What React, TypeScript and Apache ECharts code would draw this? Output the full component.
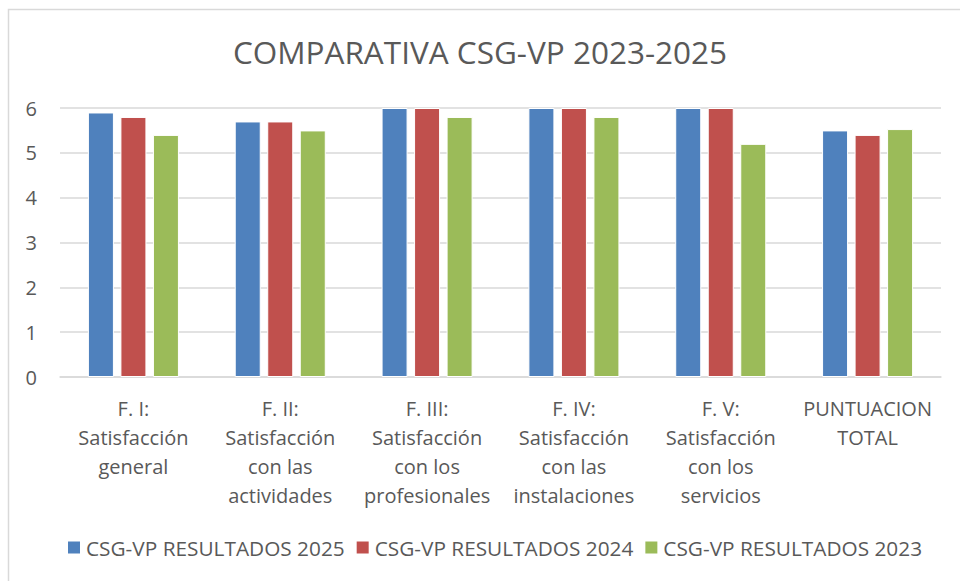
import React, { useEffect, useRef } from "react";
import * as echarts from "echarts";

const categories = [
  "F. I:\nSatisfacción\ngeneral",
  "F. II:\nSatisfacción\ncon las\nactividades",
  "F. III:\nSatisfacción\ncon los\nprofesionales",
  "F. IV:\nSatisfacción\ncon las\ninstalaciones",
  "F. V:\nSatisfacción\ncon los\nservicios",
  "PUNTUACION\nTOTAL",
];
const seriesNames = [
  "CSG-VP RESULTADOS 2025",
  "CSG-VP RESULTADOS 2024",
  "CSG-VP RESULTADOS 2023",
];
const values2025 = [5.9, 5.7, 6, 6, 6, 5.5];
const values2024 = [5.8, 5.7, 6, 6, 6, 5.4];
const values2023 = [5.4, 5.5, 5.8, 5.8, 5.2, 5.53];
const colors = ["#4F81BD", "#C0504D", "#9BBB59"];
const title = "COMPARATIVA CSG-VP 2023-2025";

const FONT = "'Open Sans', 'Noto Sans', sans-serif";
const TXT = "#595959";

export default function App() {
  const ref = useRef<HTMLDivElement>(null);
  useEffect(() => {
    const chart = echarts.init(ref.current!, null, { renderer: "svg" });
    const data = [values2025, values2024, values2023];
    chart.setOption({
      animation: false,
      backgroundColor: "#ffffff",
      textStyle: { fontFamily: FONT },
      title: {
        text: title,
        left: "center",
        top: 30,
        textStyle: { fontFamily: FONT, fontSize: 31.5, fontWeight: "normal", color: TXT },
      },
      graphic: [
        {
          type: "rect",
          shape: { x: 8.5, y: 9.5, width: 1000, height: 1000 },
          style: { fill: "none", stroke: "#d9d9d9", lineWidth: 1.5 },
          silent: true,
        },
      ],
      legend: {
        bottom: 18,
        left: 61,
        itemWidth: 14,
        itemHeight: 14,
        itemGap: 10,
        icon: "rect",
        textStyle: { fontFamily: FONT, fontSize: 20.8, color: TXT },
        data: seriesNames,
      },
      grid: { left: 60, right: 19, top: 108, bottom: 204, containLabel: false },
      xAxis: {
        type: "category",
        data: categories,
        axisLine: { lineStyle: { color: "#d9d9d9", width: 1.5 } },
        axisTick: { show: false },
        axisLabel: {
          interval: 0,
          fontFamily: FONT,
          fontSize: 20,
          color: TXT,
          lineHeight: 29,
          margin: 17,
        },
      },
      yAxis: {
        type: "value",
        min: 0,
        max: 6,
        interval: 1,
        axisLine: { show: false },
        axisTick: { show: false },
        splitLine: { lineStyle: { color: "#d9d9d9", width: 1.5 } },
        axisLabel: { fontFamily: FONT, fontSize: 20, color: TXT, margin: 23 },
      },
      series: seriesNames.map((name, i) => ({
        name,
        type: "bar",
        data: data[i],
        barGap: "25%",
        barCategoryGap: "38%",
        itemStyle: { color: colors[i], borderColor: "#ffffff", borderWidth: 1 },
      })),
    });
    return () => chart.dispose();
  }, []);
  return (
    <div
      ref={ref}
      style={{ position: "fixed", left: 0, top: 0, width: 960, height: 581 }}
    />
  );
}
